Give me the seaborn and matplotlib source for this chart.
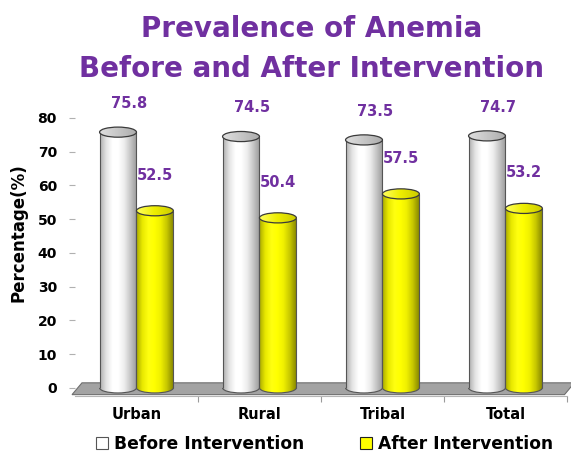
import numpy as np
import pandas as pd
import matplotlib
matplotlib.use("Agg")
import matplotlib.pyplot as plt
import seaborn as sns
from matplotlib.patches import Ellipse, Polygon, Patch, Arc
from matplotlib.colors import LinearSegmentedColormap

# ---- data ----
areas = ["Urban", "Rural", "Tribal", "Total"]
before = [75.8, 74.5, 73.5, 74.7]
after = [52.5, 50.4, 57.5, 53.2]
periods = ["Before Intervention", "After Intervention"]
y_ticks = [0, 10, 20, 30, 40, 50, 60, 70, 80]

df = pd.DataFrame({
    "Area": areas * 2,
    "Percentage": before + after,
    "Period": [periods[0]] * len(areas) + [periods[1]] * len(areas),
})

# ---- style ----
sns.set_theme(style="white")
plt.rcParams["font.family"] = ["DejaVu Sans"]
plt.rcParams["text.color"] = "black"
purple = "#7030A0"
face = {periods[0]: "#ffffff", periods[1]: "#ffff00"}
body_cmap = {
    periods[0]: LinearSegmentedColormap.from_list(
        "before_body", ["#b0b0b0", "#e4e4e4", "#ffffff", "#ffffff", "#ececec", "#c4c4c4", "#9a9a9a"]),
    periods[1]: LinearSegmentedColormap.from_list(
        "after_body", ["#a6a600", "#e8e800", "#ffff10", "#ffff00", "#f0f000", "#c8c800", "#8c8c00"]),
}
cap_cmap = {
    periods[0]: LinearSegmentedColormap.from_list("before_cap", ["#dedede", "#c6c6c6", "#acacac"]),
    periods[1]: LinearSegmentedColormap.from_list("after_cap", ["#ffff60", "#eeee00", "#cccc00"]),
}
label_offset = {periods[0]: 8.5, periods[1]: 10.5}
label_shift = {periods[0]: 0.09, periods[1]: 0.0}
cap_h = 3.0  # ellipse height in data units

fig = plt.figure(figsize=(5.71, 4.58), dpi=100)
ax = fig.add_axes([0.1313, 0.1354, 0.8616, 0.607])

sns.barplot(data=df, x="Area", y="Percentage", hue="Period", palette=face,
            width=0.6, ax=ax, legend=False, edgecolor="none", linewidth=0, zorder=3)

grad = np.linspace(0, 1, 128).reshape(1, -1)
for container, period in zip(ax.containers, periods):
    for bar in container:
        x0, w, h = bar.get_x(), bar.get_width(), bar.get_height()
        xc = x0 + w / 2
        # rounded bottom of the cylinder
        bottom = Ellipse((xc, 0), w, cap_h, facecolor="none", edgecolor="none", zorder=3)
        ax.add_patch(bottom)
        imb = ax.imshow(grad, cmap=body_cmap[period], aspect="auto",
                        extent=(x0, x0 + w, -cap_h / 2, cap_h / 2), zorder=3,
                        interpolation="bilinear")
        imb.set_clip_path(bottom)
        ax.add_patch(Arc((xc, 0), w, cap_h, theta1=180, theta2=360,
                         edgecolor="#555555", lw=0.8, zorder=3.2))
        # shaded body
        im = ax.imshow(grad, cmap=body_cmap[period], aspect="auto",
                       extent=(x0, x0 + w, 0, h), zorder=3.1, interpolation="bilinear")
        im.set_clip_path(bar)
        ax.vlines([x0, x0 + w], 0, h, colors="#555555", lw=0.8, zorder=3.2)
        # top cap
        top = Ellipse((xc, h), w, cap_h, facecolor="none", edgecolor="#3a3a3a",
                      lw=0.9, zorder=3.4)
        ax.add_patch(top)
        imt = ax.imshow(grad, cmap=cap_cmap[period], aspect="auto",
                        extent=(x0, x0 + w, h - cap_h / 2, h + cap_h / 2), zorder=3.3,
                        interpolation="bilinear")
        imt.set_clip_path(top)
        # value label
        ax.text(xc + label_shift[period], h + label_offset[period], f"{h:.1f}",
                ha="center", va="center", color=purple, fontsize=10.5,
                fontweight="bold", zorder=5, clip_on=False)

# grey floor under the cylinders
floor = Polygon([(-0.524, -2.0), (3.48, -2.0), (3.56, 1.5), (-0.443, 1.5)],
                closed=True, facecolor="#a3a3a3", edgecolor="#6e6e6e", lw=0.8,
                zorder=2, clip_on=False)
ax.add_patch(floor)

# ---- axes ----
ax.set_xlim(-0.5, 3.5)
ax.set_ylim(-2.4, 80)
ax.set_yticks(y_ticks)
ax.set_yticklabels([str(t) for t in y_ticks])
ax.set_xticks(range(len(areas)))
ax.set_xticklabels(areas)
ax.set_xticks([0.5, 1.5, 2.5, 3.5], minor=True)
ax.tick_params(axis="x", which="major", length=0, pad=8, labelsize=10.5, labelcolor="black")
ax.tick_params(axis="x", which="minor", bottom=True, length=4, width=0.8, color="#9a9a9a")
ax.tick_params(axis="y", left=True, length=4, width=0.8, color="#b0b0b0", pad=9,
               labelsize=10, labelcolor="black")
for lab in ax.get_xticklabels() + ax.get_yticklabels():
    lab.set_fontweight("bold")
for side in ["top", "right", "left"]:
    ax.spines[side].set_visible(False)
ax.spines["bottom"].set_color("#b5b5b5")
ax.spines["bottom"].set_linewidth(0.8)
ax.set_xlabel("")
ax.set_ylabel("Percentage(%)", fontsize=12, fontweight="bold", color="black")
ax.yaxis.set_label_coords(-0.0955, 0.586)

# ---- title ----
fig.text(0.545, 0.919, "Prevalence of Anemia", ha="center", va="baseline",
         fontsize=20, fontweight="bold", color=purple)
fig.text(0.545, 0.832, "Before and After Intervention", ha="center", va="baseline",
         fontsize=20, fontweight="bold", color=purple)

# ---- legend ----
handles = [Patch(facecolor=face[periods[0]], edgecolor="#555555", lw=0.8, label=periods[0]),
           Patch(facecolor=face[periods[1]], edgecolor="#222222", lw=0.8, label=periods[1])]
leg = fig.legend(handles=handles, loc="center left", bbox_to_anchor=(0.168, 0.031), ncol=2,
                 frameon=False, borderpad=0, borderaxespad=0, handlelength=0.7,
                 handleheight=0.7, handletextpad=0.35, columnspacing=3.3,
                 prop={"weight": "bold", "size": 12.3})
for t in leg.get_texts():
    t.set_color("black")

fig.savefig("out.png", dpi=100)
